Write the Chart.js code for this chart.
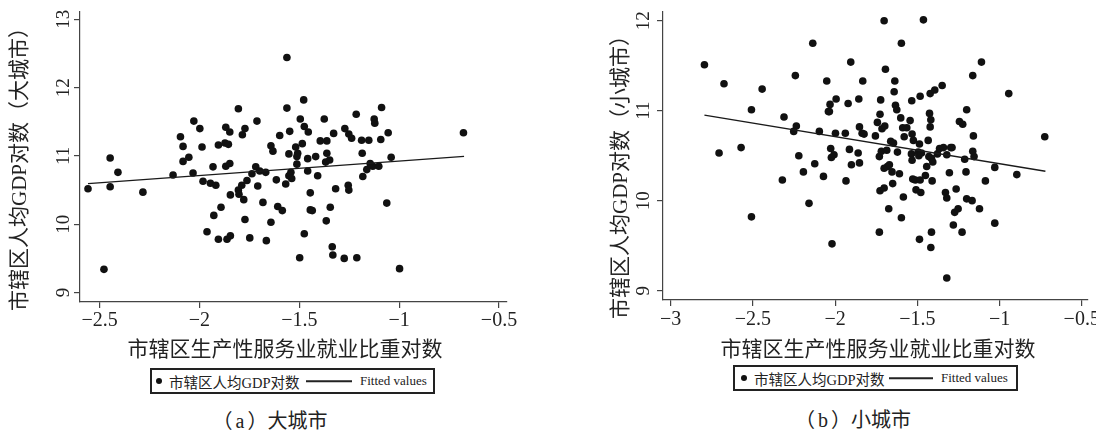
<!DOCTYPE html>
<html>
<head>
<meta charset="utf-8">
<script src="https://cdn.jsdelivr.net/npm/chart.js@4.4.1/dist/chart.umd.min.js"></script>
<style>
  body { margin: 0; background: #fff; width: 1096px; height: 430px; overflow: hidden; position: relative;
         font-family: "Liberation Serif", "Noto Sans CJK SC", serif; color: #222; }
  .c { position: absolute; top: 0; }
  .ytitle { position: absolute; font-size: 21px; white-space: nowrap; transform: translate(-50%, -50%) rotate(-90deg); }
  .xtitle { position: absolute; font-size: 21px; white-space: nowrap; transform: translate(-50%, -50%); }
  .caption { position: absolute; font-size: 20px; white-space: nowrap; transform: translate(-50%, -50%); }
  .caption i { font-style: normal; padding: 0 3px; }
  .legend { position: absolute; width: 285px; height: 26px; border: 2px solid #222; box-sizing: border-box; }
  .legend span { position: absolute; top: 50%; transform: translateY(-50%); white-space: nowrap; }
  .legend .dot { width: 6px; height: 6px; border-radius: 50%; background: #111; margin-left: -3px; }
  .legend .txt { font-size: 14.5px; }
  .legend .ln { height: 1.5px; background: #222; }
  .legend .fit { font-size: 13px; }
</style>
</head>
<body>

<div class="c" style="left:0"><canvas id="grafBig" width="540" height="335"></canvas></div>
<div class="c" style="left:580px"><canvas id="grafSmall" width="516" height="335"></canvas></div>

<div class="ytitle" style="left:17px; top:164px">市辖区人均GDP对数（大城市）</div>
<div class="ytitle" style="left:618px; top:172px">市辖区人均GDP对数（小城市）</div>
<div class="xtitle" style="left:285px; top:347px">市辖区生产性服务业就业比重对数</div>
<div class="xtitle" style="left:878px; top:347px">市辖区生产性服务业就业比重对数</div>

<div class="legend" style="left:150px; top:368px">
  <span class="dot" style="left:7px"></span>
  <span class="txt" style="left:17px">市辖区人均GDP对数</span>
  <span class="ln" style="left:154px; width:46px"></span>
  <span class="fit" style="left:208px">Fitted values</span>
</div>
<div class="legend" style="left:733px; top:365px">
  <span class="dot" style="left:9px"></span>
  <span class="txt" style="left:19px">市辖区人均GDP对数</span>
  <span class="ln" style="left:154px; width:44px"></span>
  <span class="fit" style="left:206px">Fitted values</span>
</div>

<div class="caption" style="left:270px; top:419px">（<i>a</i>）大城市</div>
<div class="caption" style="left:853px; top:418px">（<i>b</i>）小城市</div>

<script>
// dados do painel (a) - cidades grandes
const bigX = [
  -2.558,-2.478,-2.447,-2.447,-2.408,-2.283,-2.132,-2.095,-2.082,-2.082,
  -2.053,-2.032,-2.028,-1.998,-1.987,-1.982,-1.962,-1.945,-1.932,-1.928,
  -1.918,-1.905,-1.905,-1.892,-1.868,-1.872,-1.868,-1.862,-1.855,-1.848,
  -1.848,-1.845,-1.845,-1.805,-1.805,-1.802,-1.788,-1.785,-1.772,-1.778,
  -1.772,-1.762,-1.748,-1.737,-1.718,-1.712,-1.708,-1.698,-1.682,-1.668,
  -1.665,-1.642,-1.642,-1.632,-1.615,-1.608,-1.598,-1.585,-1.568,-1.562,
  -1.562,-1.552,-1.552,-1.548,-1.542,-1.538,-1.518,-1.512,-1.508,-1.512,
  -1.498,-1.495,-1.485,-1.478,-1.475,-1.475,-1.458,-1.458,-1.455,-1.445,
  -1.445,-1.435,-1.418,-1.408,-1.395,-1.375,-1.368,-1.365,-1.362,-1.362,
  -1.348,-1.345,-1.335,-1.332,-1.328,-1.318,-1.275,-1.272,-1.255,-1.252,
  -1.252,-1.238,-1.215,-1.212,-1.188,-1.185,-1.182,-1.162,-1.152,-1.145,
  -1.132,-1.125,-1.122,-1.102,-1.092,-1.088,-1.062,-1.055,-1.040,-0.998,
  -0.678
];
const bigY = [
  10.52,9.34,10.97,10.55,10.76,10.47,10.72,11.28,11.14,10.92,
  10.98,10.75,11.51,11.40,11.13,10.63,9.89,10.60,10.84,10.13,
  10.57,11.16,9.78,10.25,11.42,11.19,10.85,9.78,11.17,11.35,
  10.89,10.43,9.83,11.69,10.50,10.44,10.57,11.31,11.40,10.36,
  10.07,10.64,9.80,10.74,10.84,11.51,10.56,10.78,10.32,10.76,
  9.76,11.15,10.03,11.07,10.65,10.26,11.30,10.20,10.59,12.44,
  11.70,11.03,10.71,11.36,10.76,10.67,11.13,10.99,11.04,10.88,
  9.51,11.54,11.18,11.82,11.43,9.86,10.96,10.78,11.35,10.46,
  10.21,10.20,10.99,10.71,11.22,11.54,10.91,10.05,11.22,11.04,
  10.94,10.25,9.67,9.55,11.33,10.52,9.50,11.40,10.57,10.50,
  11.32,11.26,11.61,9.51,11.23,11.04,10.70,10.80,11.23,10.89,
  10.85,11.54,11.48,10.85,11.24,11.71,10.31,11.34,10.98,9.35,
  11.34
];
const bigFitX = [-2.558, -0.675];
const bigFitY = [10.595, 10.995];
const bigXTicks = [-2.5, -2, -1.5, -1, -0.5];
const bigYTicks = [9, 10, 11, 12, 13];

// dados do painel (b) - cidades pequenas
const smallX = [
  -2.795,-2.706,-2.676,-2.572,-2.509,-2.509,-2.444,-2.321,-2.311,-2.252,
  -2.242,-2.236,-2.221,-2.193,-2.159,-2.136,-2.124,-2.096,-2.071,-2.051,
  -2.041,-2.035,-2.031,-2.027,-2.023,-2.019,-2.007,-1.998,-1.994,-1.938,
  -1.934,-1.921,-1.913,-1.905,-1.901,-1.860,-1.856,-1.852,-1.852,-1.836,
  -1.832,-1.824,-1.755,-1.743,-1.731,-1.731,-1.727,-1.723,-1.727,-1.719,
  -1.715,-1.702,-1.702,-1.702,-1.698,-1.694,-1.686,-1.682,-1.674,-1.670,
  -1.662,-1.654,-1.650,-1.645,-1.641,-1.637,-1.633,-1.625,-1.621,-1.609,
  -1.601,-1.597,-1.597,-1.589,-1.585,-1.580,-1.564,-1.544,-1.536,-1.534,
  -1.532,-1.532,-1.528,-1.524,-1.512,-1.508,-1.495,-1.491,-1.487,-1.487,
  -1.483,-1.483,-1.479,-1.475,-1.463,-1.451,-1.443,-1.434,-1.430,-1.426,
  -1.422,-1.422,-1.418,-1.418,-1.414,-1.414,-1.410,-1.406,-1.394,-1.378,
  -1.365,-1.349,-1.341,-1.329,-1.321,-1.321,-1.321,-1.305,-1.297,-1.289,
  -1.281,-1.273,-1.264,-1.252,-1.244,-1.228,-1.224,-1.212,-1.204,-1.200,
  -1.200,-1.167,-1.163,-1.163,-1.159,-1.155,-1.122,-1.110,-1.086,-1.029,
  -1.029,-0.944,-0.895,-0.725
];
const smallY = [
  11.51,10.53,11.30,10.59,11.01,9.82,11.24,10.23,10.93,10.77,
  11.39,10.83,10.50,10.32,9.97,11.75,10.41,10.77,10.27,11.33,
  10.99,10.99,11.07,10.58,10.48,9.52,10.51,10.75,11.13,10.75,
  10.22,11.08,10.57,11.54,10.40,10.53,11.13,10.82,10.42,10.75,
  11.33,10.74,10.72,10.87,9.65,10.49,10.96,11.12,10.11,10.55,
  10.80,10.14,10.36,12.00,10.83,11.46,10.56,10.38,9.91,10.40,
  10.66,10.32,10.19,10.64,11.21,11.33,11.06,11.01,10.54,10.30,
  10.92,11.75,9.81,10.81,10.04,10.71,10.81,10.89,10.52,11.11,
  10.74,10.45,10.24,10.67,10.23,10.12,10.54,10.50,10.63,9.57,
  11.16,10.23,10.09,10.53,12.01,10.28,10.38,10.67,10.49,10.97,
  11.19,10.82,10.90,9.48,9.65,10.47,10.22,10.43,11.23,10.52,
  10.58,11.28,10.59,10.09,10.51,10.03,9.14,10.31,10.59,10.59,
  9.73,9.87,10.13,9.91,10.88,9.65,10.85,10.46,10.32,11.01,
  10.02,10.00,11.39,10.55,10.72,10.49,9.91,11.54,10.22,10.37,
  9.75,11.19,10.29,10.71
];
const smallFitX = [-2.795, -0.721];
const smallFitY = [10.952, 10.327];
const smallXTicks = [-3, -2.5, -2, -1.5, -1, -0.5];
const smallYTicks = [9, 10, 11, 12];

const fonte = '"Liberation Serif", "Noto Sans CJK SC", serif';

function pontos(xs, ys) {
  return xs.map(function (x, i) { return { x: x, y: ys[i] }; });
}

function rotulo(v) {
  return String(v).replace('-', '\u2212');
}

function criarGrafico(id, cfg) {
  new Chart(document.getElementById(id), {
    type: 'scatter',
    data: {
      datasets: [{
        label: 'Fitted values',
        data: pontos(cfg.fitX, cfg.fitY),
        showLine: true,
        borderColor: '#1a1a1a',
        borderWidth: 1.3,
        pointRadius: 0,
        fill: false
      }, {
        label: '市辖区人均GDP对数',
        data: pontos(cfg.x, cfg.y),
        pointRadius: 3.8,
        backgroundColor: '#111',
        borderColor: '#111',
        pointBorderWidth: 0
      }]
    },
    options: {
      responsive: false,
      animation: false,
      devicePixelRatio: 1,
      layout: { padding: { top: 12, right: cfg.padRight, left: 0, bottom: 0 } },
      plugins: { legend: { display: false }, tooltip: { enabled: false } },
      scales: {
        x: {
          type: 'linear',
          min: cfg.xMin,
          max: cfg.xMax,
          afterBuildTicks: function (s) { s.ticks = cfg.xTicks.map(function (v) { return { value: v }; }); },
          afterFit: function (s) { s.height = cfg.xH; s.paddingLeft = 0; s.paddingRight = 0; },
          grid: { drawOnChartArea: false, tickLength: 6, color: '#444', lineWidth: 1.2 },
          border: { color: '#444', width: 1.2 },
          ticks: { padding: cfg.xPad, color: '#222', autoSkip: false, maxRotation: 0,
                   font: { family: fonte, size: 20 }, callback: rotulo }
        },
        y: {
          type: 'linear',
          min: cfg.yMin,
          max: cfg.yMax,
          afterBuildTicks: function (s) { s.ticks = cfg.yTicks.map(function (v) { return { value: v }; }); },
          afterFit: function (s) { s.width = cfg.yW; s.paddingTop = 0; s.paddingBottom = 0; },
          grid: { drawOnChartArea: false, tickLength: 6, color: '#444', lineWidth: 1.2 },
          border: { color: '#444', width: 1.2 },
          ticks: { padding: cfg.yPad, color: '#222', autoSkip: false, minRotation: 90, maxRotation: 90,
                   crossAlign: 'center', font: { family: fonte, size: 19 }, callback: rotulo }
        }
      }
    }
  });
}

criarGrafico('grafBig', {
  x: bigX, y: bigY, fitX: bigFitX, fitY: bigFitY, xTicks: bigXTicks, yTicks: bigYTicks,
  xMin: -2.598, xMax: -0.46, yMin: 8.862, yMax: 13.107,
  padRight: 33, yW: 80, xH: 33, xPad: 1, yPad: 0
});

criarGrafico('grafSmall', {
  x: smallX, y: smallY, fitX: smallFitX, fitY: smallFitY, xTicks: smallXTicks, yTicks: smallYTicks,
  xMin: -3.047, xMax: -0.462, yMin: 8.896, yMax: 12.097,
  padRight: 8, yW: 83, xH: 35, xPad: 2, yPad: 3
});
</script>
</body>
</html>
